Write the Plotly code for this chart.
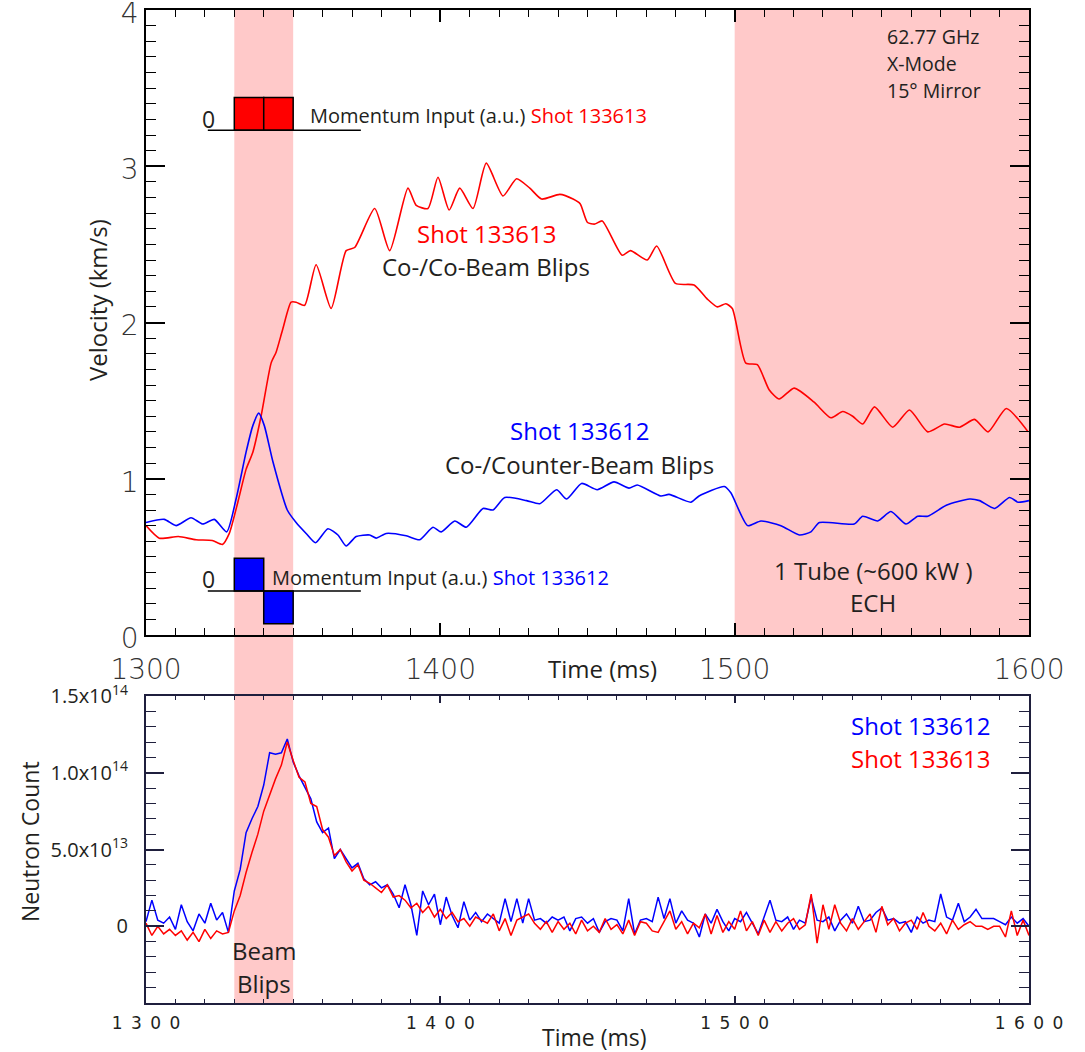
import plotly.graph_objects as go

# ---------------- data ----------------
# Velocity (km/s), shot 133613 (co-/co-beam blips)
red_vel_t = [1300, 1304.5, 1311, 1317, 1322.5, 1326, 1328.3, 1331.2, 1334, 1336.3, 1339.1, 1342.5,
             1344.2, 1346.5, 1349.3, 1351, 1353.9, 1357.8, 1362.9, 1368, 1370.9, 1377.7, 1382.8,
             1389, 1391.8, 1395.8, 1399.2, 1403, 1406.6, 1411.1, 1415.6, 1421.3, 1425.9, 1430.4,
             1434.4, 1440.6, 1445.1, 1447.5, 1450, 1452.5, 1455, 1461.8, 1464.6, 1470.3, 1473.5,
             1479.9, 1486.2, 1490.7, 1494.1, 1497, 1499.2, 1503.8, 1507.7, 1511.7, 1515.1, 1520.2,
             1527, 1532.7, 1536.7, 1540.1, 1543.5, 1547.5, 1553.7, 1559.4, 1565.6, 1571.3, 1576.4,
             1581.5, 1586.1, 1592.3, 1599.7]
red_vel = [0.70, 0.62, 0.63, 0.61, 0.605, 0.58, 0.65, 0.85, 1.06, 1.17, 1.40, 1.74,
           1.81, 1.96, 2.13, 2.13, 2.11, 2.37, 2.09, 2.46, 2.48, 2.73, 2.46,
           2.86, 2.75, 2.73, 2.93, 2.72, 2.86, 2.73, 3.02, 2.81, 2.92, 2.86,
           2.79, 2.82, 2.79, 2.76, 2.64, 2.63, 2.65, 2.43, 2.46, 2.40, 2.49,
           2.25, 2.24, 2.15, 2.10, 2.12, 2.09, 1.74, 1.73, 1.57, 1.51, 1.58,
           1.49, 1.39, 1.43, 1.40, 1.35, 1.46, 1.33, 1.44, 1.30, 1.35, 1.33,
           1.38, 1.30, 1.45, 1.30]

# Velocity (km/s), shot 133612 (co-/counter-beam blips)
blue_vel_t = [1300, 1306.2, 1310.2, 1315.3, 1319.3, 1323.2, 1327.4, 1330.6, 1334, 1336.3, 1338.3,
              1340.2, 1343.1, 1348, 1351, 1354.4, 1357.6, 1361.8, 1365.2, 1368, 1371.4, 1376,
              1378.2, 1381.6, 1388.4, 1393, 1397.5, 1400.3, 1404.9, 1408.8, 1414.5, 1417.9,
              1421.9, 1429.3, 1433.8, 1439.5, 1442.9, 1448, 1453.3, 1459, 1464.1, 1466.9,
              1474.9, 1477.7, 1485.1, 1487.9, 1496.5, 1498.7, 1504.4, 1508.9, 1515.7, 1522,
              1525.9, 1528.8, 1540.6, 1543.5, 1548.6, 1553.1, 1558.2, 1562.2, 1565.6, 1571.9,
              1579.8, 1583.2, 1588.3, 1593.4, 1596.3, 1600]
blue_vel = [0.72, 0.74, 0.70, 0.75, 0.71, 0.74, 0.66, 0.87, 1.17, 1.34, 1.42,
            1.34, 1.11, 0.80, 0.72, 0.65, 0.59, 0.68, 0.64, 0.57, 0.63, 0.64,
            0.62, 0.65, 0.635, 0.61, 0.69, 0.66, 0.73, 0.69, 0.81, 0.80,
            0.88, 0.86, 0.84, 0.93, 0.87, 0.97, 0.93, 0.98, 0.94, 0.96,
            0.89, 0.90, 0.85, 0.89, 0.95, 0.91, 0.70, 0.73, 0.70, 0.64,
            0.66, 0.72, 0.71, 0.76, 0.73, 0.79, 0.71, 0.76, 0.76, 0.83,
            0.87, 0.86, 0.81, 0.88, 0.85, 0.86]

# Neutron count (units of 1e13), sampled every 2 ms from 1300 ms
neutron_blue = [0.3, 1.7, 0.4, 0.2, 0.6, -0.2, 1.4, 0.3, -0.3, 0.8, 0.2, 1.5, 0.4, 0.9, -0.4,
                2.3, 3.7, 6.1, 7.0, 7.8, 9.2, 11.3, 11.2, 11.3, 12.2, 10.7, 9.8, 9.0, 8.3, 6.8,
                6.1, 6.4, 4.4, 5.0, 4.4, 3.8, 4.1, 3.1, 2.7, 2.9, 2.5, 2.7, 2.1, 1.2, 2.7,
                1.4, -0.6, 2.3, 1.4, 2.1, 0.1, 1.9, 0.7, -0.1, 1.6, 0.4, 0.9, 0.3, 0.8, 0.5,
                0.2, 1.8, 0.3, 1.8, 0.2, 1.8, 0.4, 0.5, 0.2, 0.6, 0.4, 0.6, -0.3, 0.5, 0.6,
                0.2, 0.5, -0.4, 0.3, 0.5, 0.4, -0.3, 1.8, -0.5, 0.4, 0.5, 0.3, 1.9, 0.5, 1.8,
                0.2, 1.0, 0.4, 0.2, -0.7, 0.8, 0.2, 1.1, 0.3, -0.3, 0.5, 0.3, 0.9, 0.2, -0.5,
                0.6, 1.7, 0.4, 0.3, 0.6, -0.2, 0.4, 0.2, 1.9, 0.4, 0.3, 0.6, -0.3, 0.4, 0.8,
                0.2, 1.3, 0.3, 0.4, 0.9, 1.2, 0.4, 0.5, 0.2, 0.3, -0.4, 0.6, 0.2, 0.4, 0.3,
                2.1, 0.6, 0.4, 1.5, 0.3, 0.6, 1.1, 0.5, 0.5, 0.5, 0.3, 0.1, 0.6, 0.2, 0.5, 0.0]
neutron_red = [0.2, -0.6, 0.0, -0.5, -0.2, -0.6, -0.3, -0.9, -0.4, -1.0, -0.2, -0.8, -0.3, -0.5, -0.4,
               1.0, 2.0, 3.5, 4.8, 6.0, 7.5, 8.6, 9.6, 10.5, 12.0, 10.8, 9.7, 9.4, 8.0, 7.8,
               6.3, 5.8, 4.6, 5.0, 4.2, 3.6, 4.0, 3.0, 2.8, 2.5, 2.2, 2.7, 1.9, 2.0, 1.7,
               1.2, 1.5, 0.9, 1.3, 0.6, 1.1, 0.5, 0.9, 0.3, 0.5, 0.0, 0.6, 0.4, 0.2, 0.8,
               -0.3, 0.5, -0.6, 0.4, 0.6, 0.8, 0.2, -0.2, 0.3, -0.4, 0.3, -0.2, 0.2, -0.5, 0.4,
               -0.3, 0.0, -0.4, 0.5, -0.2, 0.1, -0.5, 0.4, -0.6, 0.3, 0.2, -0.3, -0.4, 0.3, 1.0,
               -0.2, 0.3, -0.5, 0.2, -0.1, 0.8, -0.5, 0.7, -0.4, 0.3, -0.2, 1.0, -0.3, 0.3, -0.6,
               0.4, -0.4, 0.3, -0.3, 0.2, 0.5, -0.2, 0.1, 2.1, -1.1, 1.4, -0.2, 1.4, 0.2, -0.3,
               0.5, -0.2, 0.3, 0.8, -0.4, 1.3, 0.1, 0.5, -0.3, 0.2, 0.4, -0.2, 0.9, 0.0, -0.3,
               0.2, -0.5, 0.4, -0.2, 0.1, 0.3, 0.0, 0.0, -0.2, 0.0, 0.0, -0.7, 1.0, -0.6, 0.4, -0.6]
neutron_t = [1300 + 2 * i for i in range(len(neutron_blue))]

# Momentum input (a.u.) per beam blip
blip_centers = [1335, 1345]
red_momentum = [1, 1]
blue_momentum = [1, -1]

# Time windows (ms)
beam_blip_window = [1330, 1350]
ech_window = [1500, 1600]

# ---------------- styling / geometry ----------------
W, H = 1085, 1052
def px(x):
    return x / W
def py(y):
    return 1 - y / H

TXT = '#231f20'
FONT = 'Open Sans'
RED = '#ff0000'
BLUE = '#0000ff'
PINK = '#ffc9c9'
NAVY = '#1f1f3d'

mom_scale = 0.21
red_zero = 3.23
blue_zero = 0.282

fig = go.Figure()

fig.add_trace(go.Scatter(x=red_vel_t, y=red_vel, mode='lines',
                         line=dict(color=RED, width=1.6, shape='spline', smoothing=0.6),
                         xaxis='x', yaxis='y', showlegend=False, hoverinfo='skip'))
fig.add_trace(go.Scatter(x=blue_vel_t, y=blue_vel, mode='lines',
                         line=dict(color=BLUE, width=1.6, shape='spline', smoothing=0.6),
                         xaxis='x', yaxis='y', showlegend=False, hoverinfo='skip'))

fig.add_trace(go.Bar(x=blip_centers, y=[m * mom_scale for m in red_momentum], base=red_zero,
                     width=10, marker=dict(color=RED, line=dict(color='black', width=1.5)),
                     xaxis='x', yaxis='y', showlegend=False, hoverinfo='skip'))
fig.add_trace(go.Bar(x=blip_centers, y=[m * mom_scale for m in blue_momentum], base=blue_zero,
                     width=10, marker=dict(color=BLUE, line=dict(color='black', width=1.5)),
                     xaxis='x', yaxis='y', showlegend=False, hoverinfo='skip'))

fig.add_trace(go.Scatter(x=neutron_t, y=neutron_blue, mode='lines',
                         line=dict(color=BLUE, width=1.5),
                         xaxis='x2', yaxis='y2', showlegend=False, hoverinfo='skip'))
fig.add_trace(go.Scatter(x=neutron_t, y=neutron_red, mode='lines',
                         line=dict(color=RED, width=1.5),
                         xaxis='x2', yaxis='y2', showlegend=False, hoverinfo='skip'))

shapes = [
    dict(type='rect', xref='x', yref='paper', x0=beam_blip_window[0], x1=beam_blip_window[1],
         y0=py(1003), y1=py(10), fillcolor=PINK, line=dict(width=0), layer='below'),
    dict(type='rect', xref='x', yref='y', x0=ech_window[0], x1=ech_window[1],
         y0=0, y1=4, fillcolor=PINK, line=dict(width=0), layer='below'),
    dict(type='line', xref='x', yref='y', x0=1321, x1=1373, y0=red_zero, y1=red_zero,
         line=dict(color='black', width=1.5)),
    dict(type='line', xref='x', yref='y', x0=1321, x1=1373, y0=blue_zero, y1=blue_zero,
         line=dict(color='black', width=1.5)),
]

def ann(text, x, y, size=24, color=TXT, xanchor='center', angle=0, family=FONT):
    return dict(text=text, x=px(x), y=py(y), xref='paper', yref='paper', showarrow=False,
                xanchor=xanchor, yanchor='middle', textangle=angle,
                font=dict(family=family, size=size, color=color))

annotations = [
    ann('62.77 GHz', 885, 37, size=19.5, xanchor='left'),
    ann('X-Mode', 885, 63, size=19.5, xanchor='left'),
    ann('15° Mirror', 885, 90, size=19.5, xanchor='left'),
    ann('0', 208, 119, size=23),
    ann('Momentum Input (a.u.) <span style="color:#ff0000">Shot 133613</span>', 308, 115,
        size=20, xanchor='left'),
    ann('0', 208, 579, size=23),
    ann('Momentum Input (a.u.) <span style="color:#0000ff">Shot 133612</span>', 270, 577,
        size=20, xanchor='left'),
    ann('Shot 133613', 486, 234, color=RED),
    ann('Co-/Co-Beam Blips', 486, 267),
    ann('Shot 133612', 579, 430, color=BLUE),
    ann('Co-/Counter-Beam Blips', 579, 465),
    ann('1 Tube (~600 kW )', 873, 570),
    ann('ECH', 873, 602),
    ann('Time (ms)', 602, 668),
    ann('Velocity (km/s)', 97, 300, angle=-90),
    ann('Neutron Count', 30, 842, size=23, angle=-90),
    ann('Beam', 264, 950),
    ann('Blips', 264, 983),
    ann('Shot 133612', 992, 725, color=BLUE, xanchor='right'),
    ann('Shot 133613', 992, 758, color=RED, xanchor='right'),
    ann('Time (ms)', 594, 1037, size=23),
]

sp = '\u2002'
def spaced(s):
    return sp.join(list(s))

xdom = [px(146), px(1029)]
big_tick_font = dict(family='DejaVu Sans', size=28, color='#333333', weight=300)

fig.update_layout(
    width=W, height=H,
    margin=dict(l=0, r=0, t=0, b=0, autoexpand=False),
    paper_bgcolor='white', plot_bgcolor='rgba(0,0,0,0)',
    showlegend=False, barmode='overlay',
    shapes=shapes, annotations=annotations,
    xaxis=dict(domain=xdom, anchor='y', range=[1300, 1600], tickmode='linear', tick0=1300, dtick=100,
               ticks='inside', ticklen=12, tickwidth=1.5, tickcolor='black',
               minor=dict(ticks='inside', dtick=10, ticklen=7,
                          tickwidth=1.2, tickcolor='black', showgrid=False),
               showline=True, linecolor='black', linewidth=1.5, mirror='ticks',
               showgrid=False, zeroline=False, tickfont=big_tick_font, automargin=False,
               ticklabelstandoff=9, ticklabeloverflow='allow'),
    yaxis=dict(domain=[py(635), py(10)], anchor='x', range=[0, 4], tickmode='linear', tick0=0, dtick=1,
               ticks='inside', ticklen=19, tickwidth=1.5, tickcolor='black',
               minor=dict(ticks='inside', dtick=0.1, ticklen=10,
                          tickwidth=1.2, tickcolor='black', showgrid=False),
               showline=True, linecolor='black', linewidth=1.5, mirror='ticks',
               showgrid=False, zeroline=False, tickfont=big_tick_font, automargin=False,
               ticklabelshift=3, ticklabeloverflow='allow'),
    xaxis2=dict(domain=xdom, anchor='y2', range=[1300, 1600], tickmode='linear', tick0=1300, dtick=100,
                ticks='inside', ticklen=7, tickwidth=1.5, tickcolor=NAVY,
                minor=dict(ticks='inside', dtick=10, ticklen=4,
                           tickwidth=1.2, tickcolor=NAVY, showgrid=False),
                showline=True, linecolor=NAVY, linewidth=2, mirror='ticks',
                showgrid=False, zeroline=False, automargin=False,
                labelalias={'1300': spaced('1300'), '1400': spaced('1400'),
                            '1500': spaced('1500'), '1600': spaced('1600')},
                tickfont=dict(family='DejaVu Sans', size=17, color=TXT),
                ticklabelstandoff=4, ticklabeloverflow='allow'),
    yaxis2=dict(domain=[py(1003), py(696)], anchor='x2', range=[-5, 15], tickmode='linear', tick0=0, dtick=5,
                ticks='inside', ticklen=18, tickwidth=1.5, tickcolor=NAVY,
                minor=dict(ticks='inside', dtick=1, ticklen=10,
                           tickwidth=1.2, tickcolor=NAVY, showgrid=False),
                showline=True, linecolor=NAVY, linewidth=2, mirror='ticks',
                showgrid=False, zeroline=False, automargin=False,
                labelalias={'5': '5.0x10<sup>13</sup>', '10': '1.0x10<sup>14</sup>',
                            '15': '1.5x10<sup>14</sup>', '−5': ' ', '-5': ' '},
                tickfont=dict(family=FONT, size=20, color=TXT),
                ticklabelstandoff=12, ticklabeloverflow='allow'),
)

fig.write_html('out.html', config={'displayModeBar': False},
               post_script="document.body.style.margin='0';document.body.style.overflow='hidden';")
